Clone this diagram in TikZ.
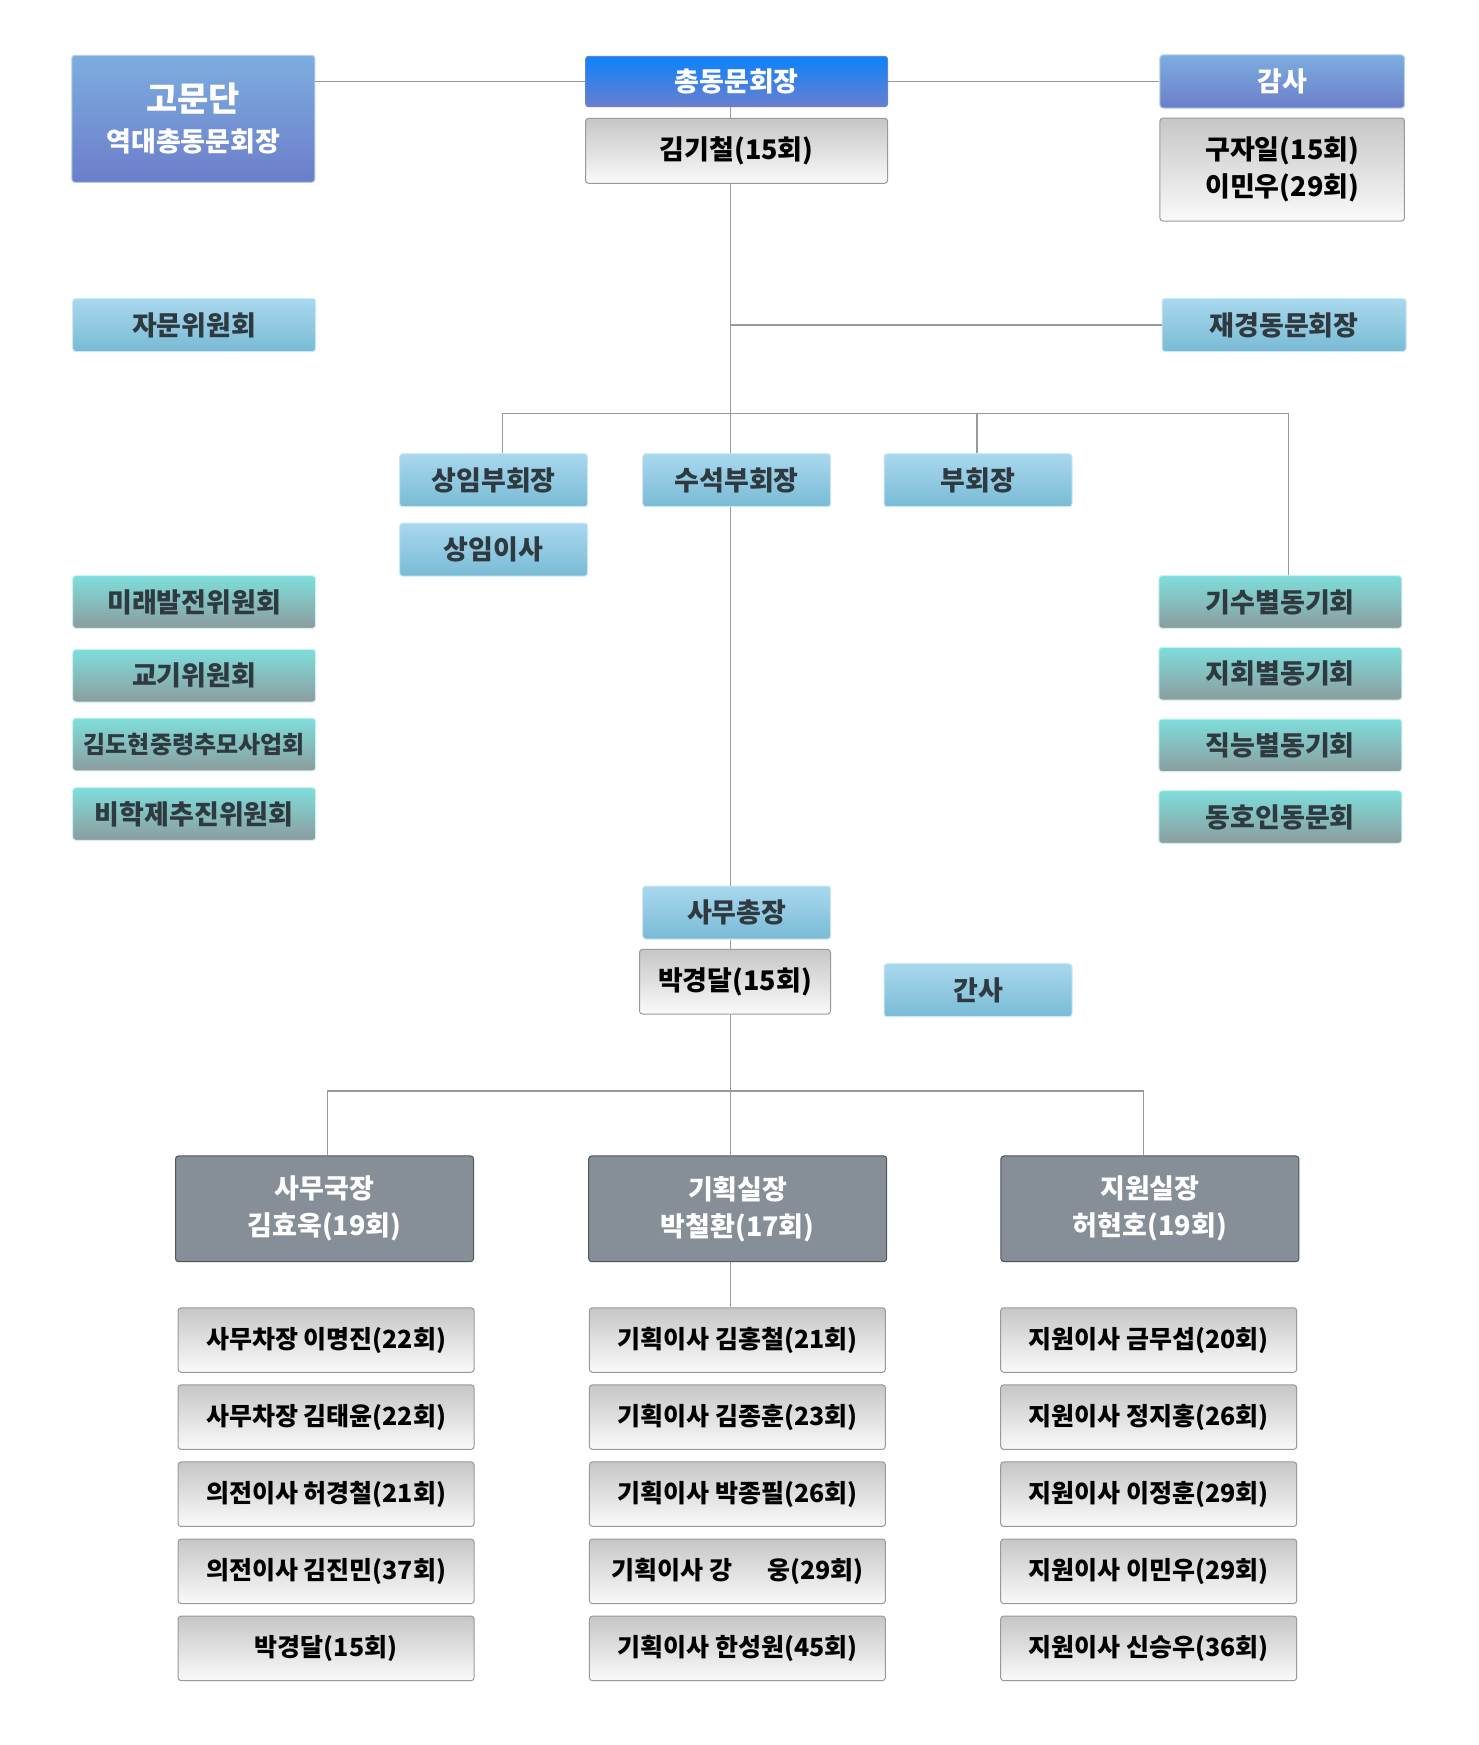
\documentclass[tikz,border=0pt]{standalone}
\usepackage{fontspec}
\setmainfont{Noto Sans CJK KR}
\usetikzlibrary{positioning}
\definecolor{linegray}{HTML}{999999}
\definecolor{chtop}{HTML}{0C82FA}
\definecolor{chbot}{HTML}{6A7FCF}
\definecolor{adtop}{HTML}{7DADDF}
\definecolor{adbot}{HTML}{6C7ECA}
\definecolor{nmtop}{HTML}{C6C6C6}
\definecolor{nmbot}{HTML}{FAFAFA}
\definecolor{lbtop}{HTML}{A9D8EE}
\definecolor{lbbot}{HTML}{79BBD5}
\definecolor{tltop}{HTML}{7EDEDC}
\definecolor{tlbot}{HTML}{8C9C9E}
\definecolor{dkfill}{HTML}{868E98}
\definecolor{dktext}{HTML}{2E3A40}
\begin{document}
\begin{tikzpicture} [x=1pt, y=-1pt,
                    box/.style={rounded corners=3pt, inner sep=0pt, align=center, line width=1pt, font=\bfseries\fontsize{27}{37}\selectfont},
                    chief/.style={box, draw=chbot, top color=chtop, bottom color=chbot, text=white, minimum width=302pt, minimum height=50.4pt},
                    adv/.style={box, draw=adtop!60!white, top color=adtop, bottom color=adbot, text=white},
                    namebox/.style={box, draw=linegray, top color=nmtop, bottom color=nmbot, text=black},
                    blue/.style={box, draw=lbtop!60!white, top color=lbtop, bottom color=lbbot, text=dktext, minimum width=#1, minimum height=53pt},
                    teal/.style={box, draw=tltop!40!white, top color=tltop, bottom color=tlbot, text=dktext, minimum width=243pt, minimum height=52.6pt},
                    dept/.style={box, draw=dkfill!60!black, fill=dkfill, text=white, minimum width=298pt, minimum height=105.7pt},
                    member/.style={namebox, minimum width=296pt, minimum height=64.5pt, font=\bfseries\fontsize{25}{30}\selectfont},
                    link/.style={draw=linegray, line width=1.3pt},
                    node distance=11.6pt
                ]
                \useasboundingbox (0,0) rectangle (1478,1745);
                \coordinate (axis) at (730.5,0);
                \coordinate (vb1) at (502.6,413.3);
                \coordinate (vb3) at (976.9,413.3);
                \coordinate (vb4) at (1288.8,413.3);
                \coordinate (hb1) at (327.5,1091);
                \coordinate (hb3) at (1143.5,1091);

                % top row
                \node [adv, minimum width=243pt, minimum height=127pt] (gomun) at (193.3,118.8) {{\fontsize{34}{40}\selectfont 고문단}\\[3pt]역대총동문회장};
                \node [chief] (chong) at (736.6,81.5) {총동문회장};
                \node [namebox, minimum width=302pt, minimum height=65pt] (chongname) at (736.6,150.8) {김기철(15회)};
                \node [adv, minimum width=244.5pt, minimum height=53pt] (gamsa) at (1282.2,81.5) {감사};
                \node [namebox, minimum width=244.5pt, minimum height=103pt] (gamsaname) at (1282.2,169.5) {구자일(15회)\\이민우(29회)};

                \node [blue=243pt] (jamun) at (194.2,325) {자문위원회};
                \node [blue=244pt] (jaegyeong) at (1284,325) {재경동문회장};

                % vice chairs
                \node [blue=188pt] (sangim) at (493.6,480.2) {상임부회장};
                \node [blue=188pt] (sangimisa) at (493.6,549.7) {상임이사};
                \node [blue=188pt] (suseok) at (736.7,480.2) {수석부회장};
                \node [blue=188pt] (buhoe) at (978,480.2) {부회장};

                % committees
                \node [teal] (mirae) at (194.2,602) {미래발전위원회};
                \node [teal] (gyogi) at (194.2,675.7) {교기위원회};
                \node [teal, font=\bfseries\fontsize{24}{30}\selectfont] (gimdo) at (194.2,744.5) {김도현중령추모사업회};
                \node [teal] (bihak) at (194.2,814) {비학제추진위원회};
                \node [teal] (gisu) at (1280.3,602) {기수별동기회};
                \node [teal] (jihoe) at (1280.3,673.7) {지회별동기회};
                \node [teal] (jikneung) at (1280.3,745.3) {직능별동기회};
                \node [teal] (dongho) at (1280.3,817) {동호인동문회};

                % secretariat
                \node [blue=188pt] (samu) at (736.7,912.5) {사무총장};
                \node [namebox, minimum width=191pt, minimum height=64.7pt] (samuname) at (735,981.7) {박경달(15회)};
                \node [blue=188pt] (gansa) at (978,990.2) {간사};

                \node [dept] (samuguk) at (324.5,1208.8) {사무국장\\김효욱(19회)};
                \node [dept] (gihoek) at (737.7,1208.8) {기획실장\\박철환(17회)};
                \node [dept] (jiwon) at (1149.9,1208.8) {지원실장\\허현호(19회)};

                % members
                \node [member] (sa1) at (326.1,1340) {사무차장 이명진(22회)};
                \node [member, below=of sa1] (sa2) {사무차장 김태윤(22회)};
                \node [member, below=of sa2] (sa3) {의전이사 허경철(21회)};
                \node [member, below=of sa3] (sa4) {의전이사 김진민(37회)};
                \node [member, below=of sa4] (sa5) {박경달(15회)};
                \node [member] (gi1) at (737.4,1340) {기획이사 김홍철(21회)};
                \node [member, below=of gi1] (gi2) {기획이사 김종훈(23회)};
                \node [member, below=of gi2] (gi3) {기획이사 박종필(26회)};
                \node [member, below=of gi3] (gi4) {기획이사 강\hspace{1.4em}웅(29회)};
                \node [member, below=of gi4] (gi5) {기획이사 한성원(45회)};
                \node [member] (ji1) at (1148.7,1340) {지원이사 금무섭(20회)};
                \node [member, below=of ji1] (ji2) {지원이사 정지홍(26회)};
                \node [member, below=of ji2] (ji3) {지원이사 이정훈(29회)};
                \node [member, below=of ji3] (ji4) {지원이사 이민우(29회)};
                \node [member, below=of ji4] (ji5) {지원이사 신승우(36회)};

                % connectors
                \draw [link] (gomun.east |- chong.west) -- (chong.west);
                \draw [link] (chong.east) -- (gamsa.west);
                \draw [link] (chong.south -| axis) -- (chongname.north -| axis);
                \draw [link] (chongname.south -| axis) -- (suseok.north -| axis);
                \draw [link] (axis |- jaegyeong.west) -- (jaegyeong.west);
                \draw [link] (sangim.north -| vb1) |- (vb4) -- (gisu.north -| vb4);
                \draw [link] (vb3) -- (buhoe.north -| vb3);
                \draw [link] (suseok.south -| axis) -- (samu.north -| axis);
                \draw [link] (samu.south -| axis) -- (samuname.north -| axis);
                \draw [link] (samuname.south -| axis) -- (gihoek.north -| axis);
                \draw [link] (samuguk.north -| hb1) |- (hb3) -- (jiwon.north -| hb3);
                \draw [link] (gihoek.south -| axis) -- (gi1.north -| axis);
\end{tikzpicture}
\end{document}
